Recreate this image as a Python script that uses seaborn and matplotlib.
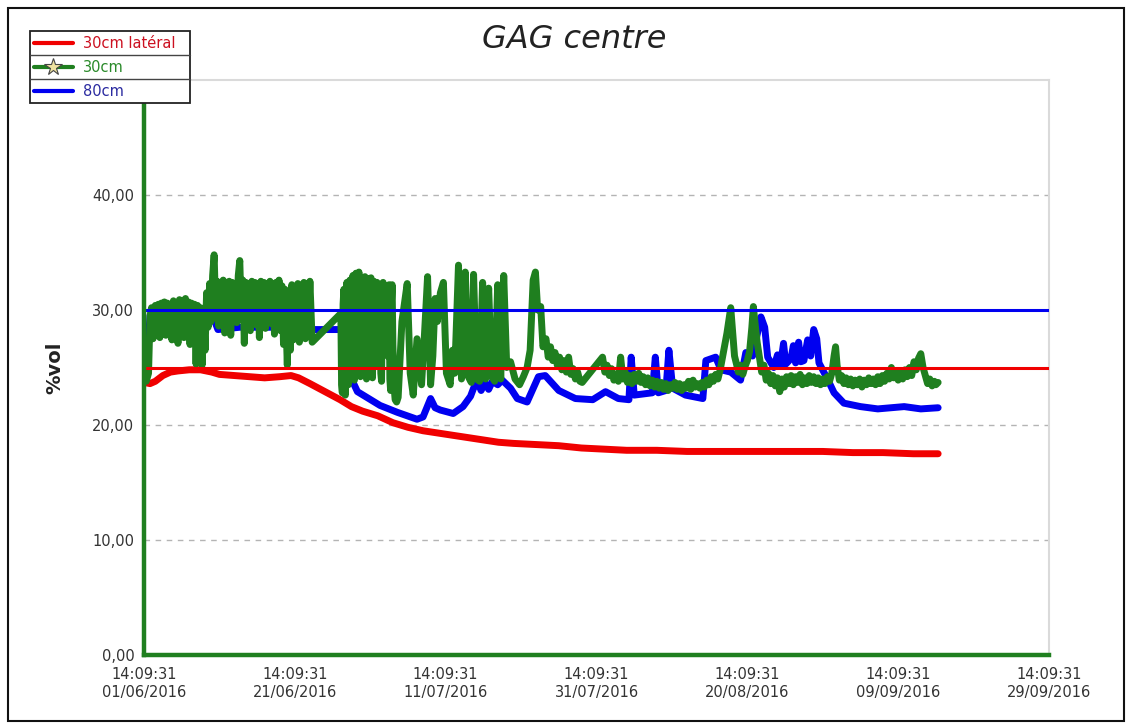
import pandas as pd
import matplotlib
matplotlib.use("Agg")
import matplotlib.pyplot as plt
from matplotlib.patches import Rectangle
from matplotlib.lines import Line2D
from matplotlib.ticker import FuncFormatter
import seaborn as sns

# ── Data (days after 01/06/2016 14:09:31, %vol) ────────────────────────────────
START = pd.Timestamp("2016-06-01 14:09:31")

red_days = [0, 0.8, 1.5, 2.5, 3.5, 4.5, 6.0, 7.5, 9.0, 10.0, 12.0, 14.0, 16.0, 18.0,
            19.5, 20.5, 22.0, 24.0, 26.0, 27.5, 29.0, 31.0, 33.0, 35.0, 37.0, 39.0,
            41.0, 43.0, 45.0, 47.0, 49.0, 52.0, 55.0, 58.0, 61.0, 64.0, 68.0, 72.0,
            78.0, 84.0, 90.0, 94.0, 98.0, 102.0, 105.3]
red_vals = [23.7, 23.6, 23.8, 24.3, 24.6, 24.7, 24.8, 24.8, 24.6, 24.4, 24.3, 24.2,
            24.1, 24.2, 24.3, 24.1, 23.6, 22.9, 22.2, 21.6, 21.2, 20.8, 20.2, 19.8,
            19.5, 19.3, 19.1, 18.9, 18.7, 18.5, 18.4, 18.3, 18.2, 18.0, 17.9, 17.8,
            17.8, 17.7, 17.7, 17.7, 17.7, 17.6, 17.6, 17.5, 17.5]

blue_days = [0, 0.4, 0.8, 1.5, 4.0, 7.4, 9.4, 9.8, 12.7, 18.1, 20.7, 22.3, 26.7,
             27.3, 28.3, 31.3, 33.6, 36.2, 37.0, 38.0, 38.6, 39.3, 41.0, 42.3, 43.3,
             43.7, 44.2, 44.7, 45.2, 45.7, 46.2, 46.9, 47.5, 48.6, 49.5, 50.8, 52.3,
             53.2, 55.0, 57.2, 59.5, 61.2, 62.9, 64.3, 64.6, 65.0, 67.4, 67.8, 68.2,
             69.2, 69.6, 70.1, 71.8, 74.1, 74.5, 75.8, 76.5, 77.8, 79.1, 79.8, 80.7,
             81.8, 82.3, 82.7, 83.5, 84.0, 84.4, 84.8, 85.1, 85.4, 85.8, 86.1, 86.4,
             86.8, 87.1, 87.5, 88.0, 88.4, 88.8, 89.2, 89.5, 90.7, 91.5, 92.8, 95.0,
             97.3, 100.8, 103.0, 105.3]
blue_vals = [25.7, 25.5, 29.5, 30.0, 29.8, 29.6, 29.0, 28.3, 28.5, 28.5, 28.4, 28.3,
             28.3, 24.3, 22.9, 21.7, 21.1, 20.5, 20.7, 22.3, 21.5, 21.3, 21.0, 21.6,
             22.5, 23.2, 23.8, 23.0, 23.7, 23.1, 23.8, 23.5, 23.9, 23.2, 22.3, 22.0,
             24.2, 24.3, 23.0, 22.3, 22.2, 22.9, 22.3, 22.2, 25.9, 22.6, 22.8, 25.9,
             22.8, 23.0, 26.5, 23.2, 22.6, 22.3, 25.6, 25.9, 24.8, 24.6, 23.9, 26.3,
             26.0, 29.4, 28.5, 25.9, 25.0, 26.1, 25.2, 27.1, 25.3, 25.5, 25.8, 26.9,
             25.4, 27.2, 25.5, 25.6, 27.4, 26.0, 28.3, 27.5, 25.4, 23.9, 22.8, 21.9,
             21.6, 21.4, 21.6, 21.4, 21.5]

# 30cm probe: start + first noisy block (days 0 - 22.3)
green_a_days = [0, 0.3, 0.6, 0.8, 1.0, 1.2, 1.5,
                1.7, 1.9, 2.1, 2.3, 2.5, 2.7, 2.9, 3.1, 3.3, 3.5, 3.7, 3.9, 4.1, 4.3,
                4.5, 4.7, 4.9, 5.1, 5.3, 5.5, 5.7, 5.9, 6.1, 6.3, 6.5, 6.7, 6.9, 7.1,
                7.3, 7.5, 7.7, 7.9, 8.1, 8.3,
                8.5, 8.7, 8.9, 9.1, 9.3, 9.5, 9.7, 9.9, 10.1, 10.3, 10.5, 10.7, 10.9,
                11.1, 11.3, 11.5, 11.7, 11.9, 12.1, 12.3, 12.5, 12.7, 12.9, 13.1, 13.3,
                13.5, 13.7, 13.9, 14.1, 14.3, 14.5, 14.7, 14.9, 15.1, 15.3, 15.5, 15.7,
                15.9, 16.1, 16.3, 16.5, 16.7, 16.9, 17.1, 17.3, 17.5, 17.7, 17.9, 18.1,
                18.3, 18.5, 18.7, 19.0, 19.2, 19.4, 19.6, 19.8, 20.0, 20.2, 20.4, 20.6,
                20.8, 21.0, 21.2, 21.4, 21.6, 21.8, 22.0, 22.3]
green_a_vals = [24.0, 23.8, 24.5, 29.5, 30.2, 27.5, 30.4,
                28.2, 30.5, 27.6, 30.6, 28.8, 30.7, 27.8, 30.6, 29.0, 30.5, 27.4, 30.8,
                28.5, 30.6, 27.1, 30.9, 28.9, 30.8, 27.6, 31.0, 28.4, 30.7, 27.0, 30.6,
                28.7, 30.5, 25.3, 30.4, 27.8, 30.2, 25.2, 30.0, 26.5, 31.5,
                28.5, 32.3, 29.0, 33.0, 34.8, 30.0, 32.5, 28.6, 32.4, 29.5, 32.6, 28.0,
                32.3, 29.2, 32.5, 27.8, 32.4, 29.8, 32.2, 28.9, 33.0, 34.3, 29.5, 32.6,
                27.1, 32.4, 29.0, 32.3, 28.2, 32.5, 29.6, 32.4, 28.7, 32.3, 27.6, 32.5,
                29.3, 32.4, 28.4, 32.2, 29.9, 32.5, 28.8, 32.3, 27.9, 32.4, 29.4, 32.6,
                28.2, 32.1, 27.0, 31.8, 25.2, 31.5, 26.5, 32.2, 27.4, 32.0, 28.6, 32.3,
                27.2, 32.0, 28.7, 32.4, 27.5, 32.2, 28.9, 32.5, 27.2]

# dense oscillation after the data gap (days 26.1 - 33.7)
green_b_days = [26.1, 26.2, 26.3, 26.4, 26.5, 26.6, 26.7, 26.8, 26.9, 27.0, 27.1, 27.2,
                27.3, 27.4, 27.5, 27.6, 27.7, 27.8, 27.9, 28.0, 28.1, 28.2, 28.3, 28.4,
                28.5, 28.6, 28.7, 28.8, 28.9, 29.0, 29.1, 29.2, 29.3, 29.4, 29.5, 29.6,
                29.7, 29.8, 29.9, 30.0, 30.1, 30.2, 30.3, 30.4, 30.5, 30.6, 30.7, 30.8,
                30.9, 31.0, 31.1, 31.2, 31.3, 31.4, 31.5, 31.6, 31.7, 31.8, 31.9, 32.0,
                32.1, 32.2, 32.3, 32.4, 32.5, 32.6, 32.7, 32.8, 32.9, 33.0, 33.1, 33.2,
                33.3, 33.5, 33.7]
green_b_vals = [29.7, 23.5, 22.8, 30.5, 31.8, 24.0, 22.6, 31.0, 32.4, 25.0, 23.5, 31.5,
                32.6, 26.0, 24.8, 32.0, 33.0, 25.5, 23.9, 31.8, 33.2, 27.0, 25.5, 32.5,
                33.3, 25.0, 24.2, 31.5, 32.8, 27.5, 26.0, 32.0, 32.9, 25.2, 24.0, 31.0,
                32.7, 28.0, 26.5, 32.2, 32.8, 25.5, 24.1, 31.2, 32.5, 28.5, 27.0, 31.9,
                32.4, 26.5, 25.2, 31.0, 32.0, 24.5, 23.8, 31.5, 32.4, 29.0, 28.2, 31.0,
                31.8, 27.0, 26.0, 31.5, 32.2, 24.0, 23.0, 30.5, 32.2, 27.0, 25.0, 23.0,
                22.2, 22.0, 22.4]

# separate columns (days 34 - 53)
green_c_days = [34.2, 34.9, 35.3, 35.7, 36.2, 36.8, 37.2, 37.6, 38.0, 38.3, 38.6, 38.9,
                39.3, 39.7, 40.1, 40.6, 40.9, 41.2, 41.7, 42.1, 42.6, 43.0, 43.4, 43.7,
                44.1, 44.5, 44.9, 45.3, 45.7, 46.1, 46.5, 46.9, 47.3, 47.7, 48.1, 48.6,
                49.2, 49.8, 50.3, 50.8, 51.2, 51.6, 51.9, 52.2, 52.6, 52.9]
green_c_vals = [29.0, 32.3, 24.5, 22.6, 27.5, 23.5, 28.0, 32.9, 23.5, 26.0, 31.0, 29.0,
                31.5, 32.4, 24.5, 23.5, 26.5, 24.5, 33.9, 24.0, 33.3, 24.2, 23.7, 33.1,
                24.0, 23.8, 32.4, 24.0, 31.9, 24.2, 23.8, 32.2, 24.0, 33.0, 25.0, 25.5,
                24.0, 23.5, 24.2, 25.0, 26.5, 32.6, 33.3, 30.0, 30.3, 26.8]

# calmer tail (days 53 - 105.3)
green_d_days = [53.3, 53.6, 53.9, 54.2, 54.5, 54.8, 55.1, 55.4, 55.7, 56.0, 56.3, 56.6,
                56.9, 57.2, 57.5, 57.8, 58.1, 60.8, 61.1, 61.4, 61.7, 62.0, 62.3, 62.6,
                62.9, 63.2, 63.5, 63.8, 64.1, 64.4, 64.7, 65.0, 65.3, 65.6, 65.9, 66.2,
                66.5, 66.8, 67.1, 67.4, 67.7, 68.0, 68.3, 68.6, 68.9, 69.2, 69.5, 69.8,
                70.1, 70.4, 70.7, 71.0, 71.3, 71.6, 71.9, 72.2, 72.5, 72.8, 73.1, 73.4,
                73.7, 74.0, 74.3, 74.6, 74.9, 75.2, 75.5, 75.8, 76.1, 76.4, 76.8, 77.3,
                77.8, 78.0, 78.3, 78.6, 78.8, 79.1, 79.4, 79.7, 80.0, 80.3, 80.6, 80.8,
                81.0, 81.3, 81.6, 81.9, 82.2, 82.5, 82.8, 83.1, 83.4, 83.7, 84.0, 84.3,
                84.6, 84.9, 85.2, 85.5, 85.8, 86.1, 86.4, 86.7, 87.0, 87.3, 87.6, 87.9,
                88.2, 88.5, 88.8, 89.1, 89.4, 89.7, 90.0, 90.3, 90.6, 90.9, 91.2, 91.5,
                91.7, 91.9, 92.2, 92.5, 92.8, 93.1, 93.4, 93.7, 94.0, 94.3, 94.6, 94.9,
                95.2, 95.5, 95.8, 96.1, 96.4, 96.7, 97.0, 97.3, 97.6, 97.9, 98.2, 98.5,
                98.8, 99.1, 99.4, 99.7, 100.0, 100.3, 100.6, 100.9, 101.2, 101.5, 101.8,
                102.1, 102.4, 102.7, 103.0, 103.3, 103.6, 103.9, 104.2, 104.5, 104.8,
                105.0, 105.3]
green_d_vals = [27.5, 25.9, 26.8, 25.6, 26.3, 25.2, 25.9, 24.8, 25.6, 24.6, 25.9, 24.4,
                24.9, 24.0, 24.6, 23.8, 23.7, 25.9, 24.6, 25.2, 24.3, 24.9, 23.9, 24.4,
                23.8, 25.9, 24.0, 24.6, 23.7, 24.3, 23.6, 24.4, 23.8, 24.5, 23.7, 24.2,
                23.5, 24.1, 23.4, 23.9, 23.3, 23.8, 23.2, 23.7, 23.1, 23.6, 23.0, 23.5,
                23.2, 23.7, 23.1, 23.6, 23.0, 23.5, 23.2, 23.8, 23.1, 23.9, 23.3, 23.6,
                23.2, 23.7, 23.3, 23.9, 23.5, 24.2, 23.8, 24.4, 24.0, 24.8, 26.2, 28.0,
                30.2, 28.5, 26.0, 25.2, 24.6, 25.2, 24.4, 25.1, 25.6, 26.4, 28.5, 30.3,
                29.0, 27.2, 25.9, 24.6, 25.2, 23.9, 24.5, 23.6, 24.3, 23.4, 24.1, 22.9,
                24.0, 23.3, 24.2, 23.6, 24.3, 23.5, 24.2, 23.7, 24.4, 23.5, 24.1, 23.6,
                24.3, 23.7, 24.2, 23.6, 24.1, 23.5, 24.0, 23.6, 24.2, 23.8, 24.5, 26.0,
                26.8, 25.2, 23.9, 24.3, 23.6, 24.1, 23.5, 24.0, 23.4, 23.9, 23.5, 24.0,
                23.3, 23.9, 23.5, 24.1, 23.6, 24.0, 23.5, 24.2, 23.6, 24.3, 23.8, 24.5,
                24.0, 25.0, 24.1, 24.5, 23.9, 24.6, 24.0, 24.8, 24.2, 25.0, 24.3,
                25.5, 24.8, 25.8, 26.2, 25.0, 24.3, 23.6, 24.0, 23.4, 23.8,
                23.5, 23.7]

green_days = green_a_days + green_b_days + green_c_days + green_d_days
green_vals = green_a_vals + green_b_vals + green_c_vals + green_d_vals
assert len(green_days) == len(green_vals)
assert len(blue_days) == len(blue_vals) and len(red_days) == len(red_vals)

SERIES = ["30cm latéral", "30cm", "80cm"]
COLORS = {"30cm latéral": "#f00000", "30cm": "#1f7f1f", "80cm": "#0000f0"}
TEXT_COLORS = {"30cm latéral": "#cc1020", "30cm": "#2a8a2a", "80cm": "#2a2aa0"}
THRESHOLDS = [25.0, 30.0]          # red / blue reference levels
Y_TICKS = [0, 10, 20, 30, 40]
N_TICKS = 7                        # x ticks every 20 days

# ── Long-form table ────────────────────────────────────────────────────────────
frames = []
for name, days, vals in [("30cm latéral", red_days, red_vals),
                         ("80cm", blue_days, blue_vals),
                         ("30cm", green_days, green_vals)]:
    frames.append(pd.DataFrame({
        "time": START + pd.to_timedelta(days, unit="D"),
        "value": vals,
        "series": name,
    }))
df = pd.concat(frames, ignore_index=True)

# ── Figure ─────────────────────────────────────────────────────────────────────
W, H = 1131, 724
sns.set_style("white")
plt.rcParams["font.family"] = ["DejaVu Sans"]

fig = plt.figure(figsize=(W / 100, H / 100), dpi=100)
ax = fig.add_axes([144 / W, 1 - 655 / H, (1049 - 144) / W, (655 - 80) / H])

def fx(px):
    return px / W

def fy(py):
    return 1 - py / H

sns.lineplot(data=df, x="time", y="value", hue="series",
             hue_order=["30cm latéral", "80cm", "30cm"], palette=COLORS,
             estimator=None, sort=False, linewidth=5, legend=False, ax=ax)

ax.axhline(THRESHOLDS[0], color=COLORS["30cm latéral"], lw=2.2, zorder=5)
ax.axhline(THRESHOLDS[1], color=COLORS["80cm"], lw=2.2, zorder=5)

ax.set_ylim(0, 50)
ticks = pd.date_range(START, periods=N_TICKS, freq="20D")
ax.set_xlim(ticks[0], ticks[-1])
ax.set_xticks(ticks)
ax.set_xticklabels([t.strftime("%H:%M:%S\n%d/%m/%Y") for t in ticks])
ax.set_yticks(Y_TICKS)
ax.yaxis.set_major_formatter(FuncFormatter(lambda v, _: f"{v:.2f}".replace(".", ",")))

ax.grid(axis="y", color="#b4b4b4", linestyle=(0, (4, 4)), lw=1)
ax.set_axisbelow(True)
for side in ["top", "right"]:
    ax.spines[side].set_color("#dadada")
    ax.spines[side].set_linewidth(1.5)
for side in ["left", "bottom"]:
    ax.spines[side].set_color("#1f7f1f")
    ax.spines[side].set_linewidth(3.2)
    ax.spines[side].set_zorder(6)

ax.tick_params(axis="both", labelsize=10.5, labelcolor="#333333")
ax.tick_params(axis="x", direction="inout", length=9, width=1.2, color="#1f6f1f", pad=4)
ax.tick_params(axis="y", direction="inout", length=8, width=1, color="#444444", pad=3)
for lab in ax.get_xticklabels():
    lab.set_linespacing(1.25)

ax.set_xlabel("")
ax.set_ylabel("%vol", fontsize=14, fontweight="bold", color="#222222", labelpad=20)

fig.text(0.508, fy(40), "GAG centre", fontsize=23, style="italic",
         ha="center", va="center", color="#222222")

# ── Legend box ─────────────────────────────────────────────────────────────────
fig.add_artist(Rectangle((fx(30), fy(103)), fx(160), 72 / H, transform=fig.transFigure,
                         facecolor="white", edgecolor="#222222", lw=1.3, zorder=10))
for k, name in enumerate(SERIES):
    yc = 43 + 24 * k
    if k > 0:
        fig.add_artist(Line2D([fx(30), fx(190)], [fy(31 + 24 * k)] * 2,
                              color="#444444", lw=1, zorder=11))
    fig.add_artist(Line2D([fx(34), fx(73)], [fy(yc)] * 2, color=COLORS[name],
                          lw=3, zorder=11))
    if name == "30cm":
        fig.add_artist(Line2D([fx(53)], [fy(yc)], marker="*", markersize=13,
                              markerfacecolor="#efe3a0", markeredgecolor="#444444",
                              markeredgewidth=0.8, zorder=12))
    fig.text(fx(83), fy(yc), name, fontsize=10.5, color=TEXT_COLORS[name],
             ha="left", va="center", zorder=12)

# outer frame
fig.add_artist(Rectangle((fx(8), fy(721)), fx(1116), 713 / H, transform=fig.transFigure,
                         facecolor="none", edgecolor="#111111", lw=1.5))

fig.savefig("out.png", dpi=100)
